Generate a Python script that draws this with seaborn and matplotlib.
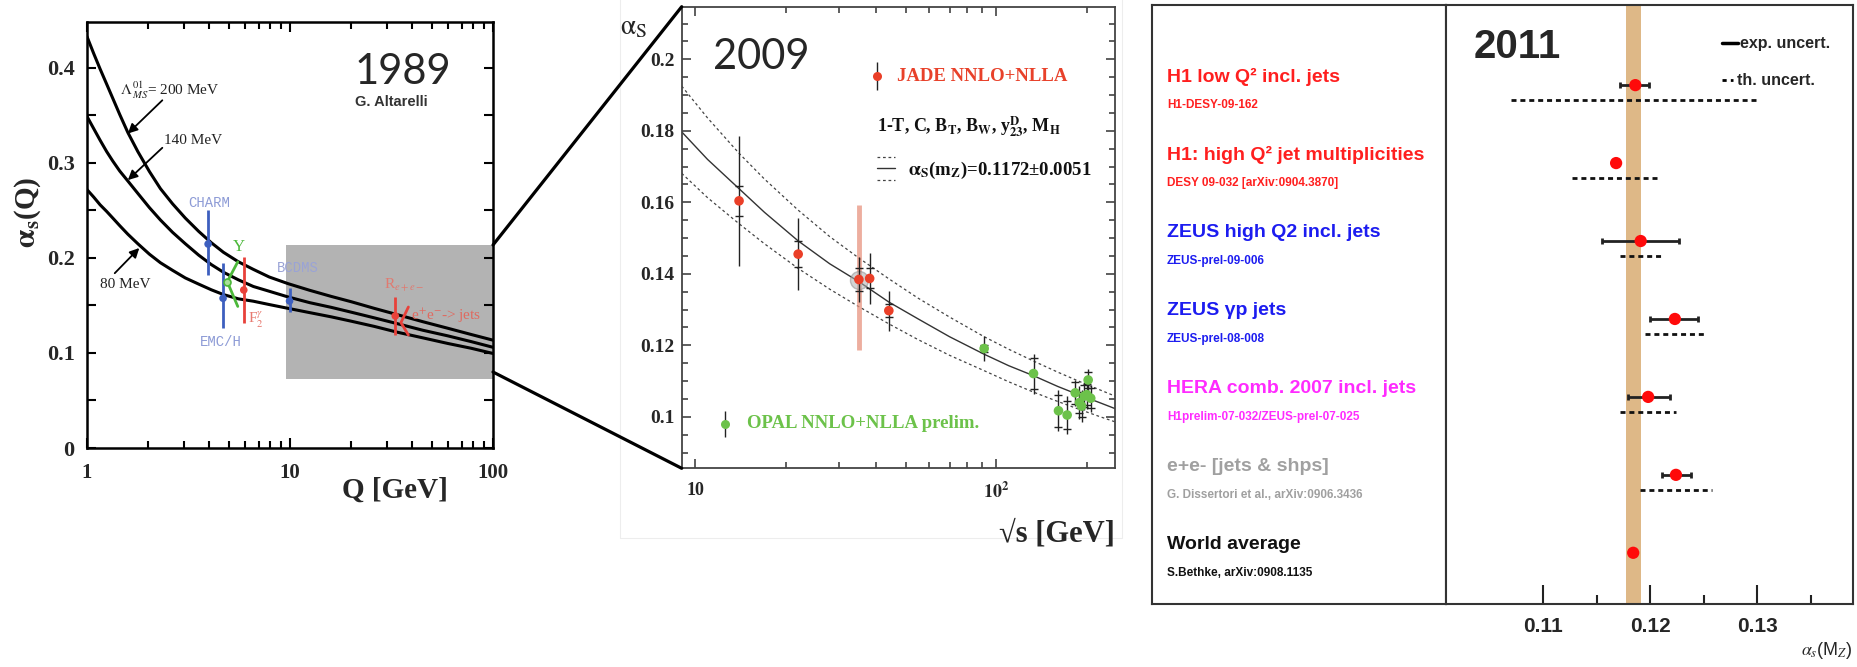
import numpy as np
import matplotlib
matplotlib.use("Agg")
import matplotlib.pyplot as plt
import seaborn as sns
from matplotlib.patches import ConnectionPatch, Rectangle
from matplotlib.ticker import (FixedLocator, FixedFormatter, MultipleLocator,
                               NullFormatter, FuncFormatter)

sns.set_style("ticks")
SERIF = ["Liberation Serif", "DejaVu Serif"]
SANS = ["Liberation Sans", "DejaVu Sans"]
plt.rcParams["font.family"] = SERIF
plt.rcParams["mathtext.fontset"] = "stix"

# ---------------- 1989: alpha_s(Q) for three Lambda values ----------------
q_gev = [1.0, 1.08, 1.16, 1.25, 1.34, 1.45, 1.59, 1.78, 2.03, 2.3, 2.64, 3.05, 3.55, 4.1,
         4.7, 5.57, 6.6, 7.9, 9.78, 12.5, 16, 20, 26, 33.6, 45, 60, 78, 100]
alpha_lam200 = [0.433, 0.415, 0.399, 0.383, 0.368, 0.351, 0.332, 0.312, 0.291, 0.273, 0.257,
                0.242, 0.228, 0.216, 0.206, 0.196, 0.188, 0.180, 0.173, 0.166, 0.1595, 0.154,
                0.147, 0.1405, 0.133, 0.126, 0.1195, 0.1135]
alpha_lam140 = [0.349, 0.336, 0.324, 0.312, 0.302, 0.2915, 0.281, 0.268, 0.253, 0.240, 0.227,
                0.215, 0.203, 0.193, 0.185, 0.177, 0.170, 0.165, 0.159, 0.153, 0.148, 0.143,
                0.137, 0.131, 0.124, 0.118, 0.112, 0.106]
alpha_lam80 = [0.272, 0.264, 0.256, 0.249, 0.242, 0.234, 0.225, 0.215, 0.204, 0.195, 0.187,
               0.179, 0.1725, 0.1665, 0.1615, 0.157, 0.1545, 0.151, 0.147, 0.1425, 0.138,
               0.1335, 0.128, 0.122, 0.116, 0.110, 0.105, 0.0995]

meas_names = ["CHARM", "EMC/H", "F2gamma", "BCDMS", "Ree"]
meas_q = [3.95, 4.68, 5.92, 9.95, 33.0]
meas_alpha = [0.2147, 0.1576, 0.1663, 0.1547, 0.139]
meas_lo = [0.182, 0.126, 0.1313, 0.1435, 0.119]
meas_hi = [0.2505, 0.1944, 0.2014, 0.1681, 0.1593]
meas_colors = ["#3d5fbf", "#3d5fbf", "#e8413a", "#3d5fbf", "#e8413a"]

ups_q = [5.53, 4.91, 5.53]
ups_alpha = [0.196, 0.175, 0.149]
eejets_q = [38.3, 35.2, 38.3]
eejets_alpha = [0.1484, 0.132, 0.1189]

zoom_q_lo = 9.56
zoom_alpha = (0.0726, 0.2137)

# ---------------- 2009: JADE / OPAL event shapes ----------------
rs_grid = [9.03, 11, 14, 17, 22, 28, 35, 44, 55, 70, 91.2, 110, 133, 160, 190, 220, 248]
fit_central = [0.1797, 0.1720, 0.1638, 0.1572, 0.1492, 0.1428, 0.1378, 0.1321, 0.1274,
               0.1224, 0.1175, 0.1143, 0.1115, 0.1085, 0.1060, 0.1040, 0.1023]
fit_upper = [0.1925, 0.1836, 0.1737, 0.1665, 0.1578, 0.1504, 0.1444, 0.1386, 0.1332,
             0.1279, 0.1224, 0.1189, 0.1156, 0.1125, 0.1098, 0.1076, 0.1058]
fit_lower = [0.1681, 0.1613, 0.1540, 0.1484, 0.1415, 0.1357, 0.1308, 0.1260, 0.1216,
             0.1172, 0.1129, 0.1098, 0.1069, 0.1043, 0.1020, 0.1001, 0.0986]

jade_rs = [14, 22, 35, 38, 44]
jade_alpha = [0.1604, 0.1455, 0.1384, 0.1387, 0.1297]
jade_stat = [0.0042, 0.0036, 0.0033, 0.0028, 0.0019]
jade_tot = [0.0182, 0.0100, 0.0063, 0.0071, 0.0056]
jade35_band = (0.1187, 0.1592)

opal_rs = [91.2, 133, 161, 172, 183, 189, 192, 196, 200, 202, 206]
opal_alpha = [0.1191, 0.1121, 0.1017, 0.1005, 0.1067, 0.1040, 0.1030, 0.1058, 0.1062, 0.1103, 0.1052]
opal_stat = [0.0010, 0.0043, 0.0045, 0.0040, 0.0030, 0.0030, 0.0030, 0.0030, 0.0030, 0.0022, 0.0028]
opal_tot = [0.0035, 0.0056, 0.0058, 0.0054, 0.0037, 0.0045, 0.0045, 0.0040, 0.0040, 0.0030, 0.0038]

# ---------------- 2011: alpha_s(M_Z) summary ----------------
row_titles = ["H1 low Q\u00b2 incl. jets", "H1: high Q\u00b2 jet multiplicities",
              "ZEUS high Q2 incl. jets", "ZEUS \u03b3p jets", "HERA comb. 2007 incl. jets",
              "e+e- [jets & shps]", "World average"]
row_refs = ["H1-DESY-09-162", "DESY 09-032 [arXiv:0904.3870]", "ZEUS-prel-09-006",
            "ZEUS-prel-08-008", "H1prelim-07-032/ZEUS-prel-07-025",
            "G. Dissertori et al., arXiv:0906.3436", "S.Bethke, arXiv:0908.1135"]
row_colors = ["#ff1f1f", "#ff1f1f", "#1c1cf0", "#1c1cf0", "#ff2bff", "#a0a0a0", "#111111"]
as_value = [0.1186, 0.1168, 0.1191, 0.1223, 0.1198, 0.1224, 0.1184]
exp_lo = [0.1172, np.nan, 0.1155, 0.1200, 0.1179, 0.1211, np.nan]
exp_hi = [0.1199, np.nan, 0.1227, 0.1245, 0.1218, 0.1238, np.nan]
th_lo = [0.1070, 0.1127, 0.1172, 0.1195, 0.1172, 0.1190, np.nan]
th_hi = [0.1302, 0.1208, 0.1210, 0.1253, 0.1224, 0.1258, np.nan]
world_band = (0.1177, 0.1191)

# ---------------- layout ----------------
W, H = 1858, 667
fig = plt.figure(figsize=(W / 100, H / 100), dpi=100)


def rect(x0, y0, x1, y1):
    return [x0 / W, 1 - y1 / H, (x1 - x0) / W, (y1 - y0) / H]


ax1 = fig.add_axes(rect(87, 22, 493, 448))
ax2 = fig.add_axes(rect(681.7, 6.7, 1115, 468.3))
axt = fig.add_axes(rect(1152, 5, 1446, 604))
ax3 = fig.add_axes(rect(1446, 5, 1853, 604))

# faint frame of the embedded 2009 figure
fig.add_artist(Rectangle((620 / W, 1 - 538 / H), (1122 - 620) / W, 540 / H,
                         transform=fig.transFigure, fill=False,
                         edgecolor="#ededed", lw=0.8, zorder=0))

# ======================= 1989 panel =======================
ax1.set_xscale("log")
xmax1 = 100
ax1.set_xlim(1, xmax1)
ax1.set_ylim(0, 0.4484)
ax1.fill_between([zoom_q_lo, xmax1], zoom_alpha[0], zoom_alpha[1],
                 color="#b3b3b3", lw=0, zorder=0)
for curve in (alpha_lam200, alpha_lam140, alpha_lam80):
    sns.lineplot(x=q_gev, y=curve, ax=ax1, color="black", lw=2.2,
                 sort=False, estimator=None, zorder=3)

ax1.vlines(meas_q, meas_lo, meas_hi, colors=meas_colors, lw=2.0, zorder=4)
sns.scatterplot(x=meas_q, y=meas_alpha, hue=meas_names,
                palette=dict(zip(meas_names, meas_colors)), s=30,
                edgecolor="none", legend=False, ax=ax1, zorder=5)
ax1.plot(ups_q, ups_alpha, color="#4cb83a", lw=2.0, zorder=4)
ax1.plot([ups_q[1]], [ups_alpha[1]], "o", ms=5, mfc="#a8e09a", mec="#4cb83a", mew=1.2, zorder=5)
ax1.plot(eejets_q, eejets_alpha, color="#e8413a", lw=2.0, zorder=4)

lab_kw = dict(fontsize=11, color="#222222", family=SERIF)
arrow_kw = dict(arrowstyle="-|>", lw=1.3, color="black", mutation_scale=14,
                shrinkA=0, shrinkB=0)
ax1.text(1.449, 0.377, r"$\Lambda^{\,01}_{\,MS}$= 200 MeV", va="center", ha="left", **lab_kw)
ax1.annotate("", xy=(1.59, 0.331), xytext=(2.35, 0.366), arrowprops=arrow_kw)
ax1.text(2.40, 0.324, "140 MeV", va="center", ha="left", **lab_kw)
ax1.annotate("", xy=(1.59, 0.282), xytext=(2.35, 0.316), arrowprops=arrow_kw)
ax1.text(1.157, 0.1716, "80 MeV", va="center", ha="left", **lab_kw)
ax1.annotate("", xy=(1.81, 0.2105), xytext=(1.37, 0.184), arrowprops=arrow_kw)

mono = ["Liberation Mono", "DejaVu Sans Mono"]
ax1.text(4.0, 0.258, "CHARM", color="#8d9bd6", fontsize=10, family=mono, ha="center", va="center")
ax1.text(4.58, 0.1116, "EMC/H", color="#8d9bd6", fontsize=10, family=mono, ha="center", va="center")
ax1.text(10.87, 0.1895, "BCDMS", color="#9aa3d6", fontsize=10, family=mono, ha="center", va="center")
ax1.text(5.58, 0.2116, "Y", color="#4cb83a", fontsize=12, ha="center", va="center")
ax1.text(6.23, 0.1347, r"F$_2^{\gamma}$", color="#e77a70", fontsize=11, ha="left", va="center")
ax1.text(29.1, 0.1716, r"R$_{e+e-}$", color="#e07a70", fontsize=11, ha="left", va="center")
ax1.text(39.3, 0.139, r"e$^{+}$e$^{-}$-> jets", color="#e06a60", fontsize=11, ha="left", va="center")

ax1.text(20.8, 0.396, "1989", fontsize=30, family=["Lato", "DejaVu Sans"], ha="left", va="center")
ax1.text(21.0, 0.364, "G. Altarelli", fontsize=10.5, family=SANS, weight="bold",
         color="#333333", ha="left", va="center")

ax1.xaxis.set_major_locator(FixedLocator([1, 10, 100]))
ax1.xaxis.set_major_formatter(FixedFormatter(["1", "10", "100"]))
ax1.xaxis.set_minor_locator(FixedLocator([2, 3, 4, 5, 6, 7, 8, 9, 20, 30, 40, 50, 60, 70, 80, 90]))
ax1.xaxis.set_minor_formatter(NullFormatter())
ax1.yaxis.set_major_locator(MultipleLocator(0.1))
ax1.yaxis.set_minor_locator(MultipleLocator(0.05))
ax1.yaxis.set_major_formatter(FuncFormatter(lambda v, p: f"{v:.1f}" if v > 0 else "0"))
ax1.tick_params(which="both", direction="in", top=True, right=True, width=1.5, color="black")
ax1.tick_params(axis="x", which="major", length=7.5, pad=11, labelsize=15)
ax1.tick_params(axis="x", which="minor", length=5)
ax1.tick_params(axis="y", which="both", length=6.5)
ax1.tick_params(axis="y", which="major", pad=9, labelsize=16)
for lab in ax1.get_xticklabels() + ax1.get_yticklabels():
    lab.set_fontweight("bold")
for sp in ax1.spines.values():
    sp.set_linewidth(1.8)
    sp.set_color("black")
ax1.set_xlabel("")
ax1.set_ylabel("")
ax1.text(-0.145, 0.554, r"$\mathbf{\alpha_s}$(Q)", transform=ax1.transAxes, rotation=90,
         fontsize=21, weight="bold", ha="center", va="center")
ax1.text(0.759, -0.0986, "Q [GeV]", transform=ax1.transAxes, fontsize=21, weight="bold",
         ha="center", va="center")

# connectors from the zoom box to the 2009 panel
for ya, yb in ((zoom_alpha[1], 1.0), (0.080, 0.0)):
    con = ConnectionPatch(xyA=(xmax1, ya), coordsA="data", axesA=ax1,
                          xyB=(0.0, yb), coordsB="axes fraction", axesB=ax2,
                          color="black", lw=2.3, zorder=10)
    fig.add_artist(con)

# ======================= 2009 panel =======================
ax2.set_xscale("log")
ax2.set_xlim(9.03, 248)
ax2.set_ylim(0.0856, 0.2147)
sns.lineplot(x=rs_grid, y=fit_central, ax=ax2, color="#333333", lw=1.0, sort=False, estimator=None)
for band in (fit_upper, fit_lower):
    sns.lineplot(x=rs_grid, y=band, ax=ax2, color="#444444", lw=0.9, sort=False,
                 estimator=None, linestyle=(0, (2.2, 2.2)))

ax2.vlines([jade_rs[2]], jade35_band[0], jade35_band[1], color="#e8937f", lw=3.5, alpha=0.75, zorder=2)
ax2.plot([jade_rs[2]], [jade_alpha[2]], "o", ms=13, mfc="#b0b0b0", mec="#909090", alpha=0.55, zorder=3)

for xs, ys, st, tt in ((jade_rs, jade_alpha, jade_stat, jade_tot),
                       (opal_rs, opal_alpha, opal_stat, opal_tot)):
    ax2.errorbar(xs, ys, yerr=tt, fmt="none", ecolor="#222222", elinewidth=1.0, zorder=4)
    ax2.errorbar(xs, ys, yerr=st, fmt="none", ecolor="#222222", elinewidth=0,
                 capsize=2.6, capthick=1.0, zorder=4)
sns.scatterplot(x=jade_rs, y=jade_alpha, color="#ea3f28", s=48, edgecolor="none", ax=ax2, zorder=5)
sns.scatterplot(x=opal_rs, y=opal_alpha, color="#6cc24a", s=48, edgecolor="none", ax=ax2, zorder=5)

ax2.text(11.48, 0.2006, "2009", fontsize=30, family=["Lato", "DejaVu Sans"], ha="left", va="center")
ax2.errorbar([40.2], [0.1953], yerr=[0.004], fmt="o", ms=6.5, color="#ea3f28",
             ecolor="#222222", elinewidth=1.0, mec="none")
ax2.text(46.7, 0.1953, "JADE NNLO+NLLA", color="#e8412a", fontsize=13.5, weight="bold",
         ha="left", va="center")
ax2.text(40.2, 0.1811,
         r"1-T, C, B$_\mathbf{T}$, B$_\mathbf{W}$, y$^\mathbf{D}_\mathbf{23}$, M$_\mathbf{H}$",
         fontsize=13, weight="bold", ha="left", va="center", color="#111111")
ax2.plot([40.2, 46.1], [0.1727, 0.1727], color="#444444", lw=0.9, ls=(0, (2.2, 2.2)))
ax2.plot([40.2, 46.1], [0.1695, 0.1695], color="#333333", lw=1.0)
ax2.plot([40.2, 46.1], [0.1662, 0.1662], color="#444444", lw=0.9, ls=(0, (2.2, 2.2)))
ax2.text(51.1, 0.1690, r"$\mathbf{\alpha_S}$(m$_\mathbf{Z}$)=0.1172" + "\u00b1" + "0.0051",
         fontsize=13.5, weight="bold", ha="left", va="center", color="#111111")
ax2.errorbar([12.58], [0.098], yerr=[0.0037], fmt="o", ms=6.5, color="#6cc24a",
             ecolor="#222222", elinewidth=1.0, mec="none")
ax2.text(14.86, 0.098, "OPAL NNLO+NLLA prelim.", color="#6cc24a", fontsize=13.5,
         weight="bold", ha="left", va="center")

ax2.xaxis.set_major_locator(FixedLocator([10, 100]))
ax2.xaxis.set_major_formatter(FixedFormatter(["10", r"$\mathbf{10^{2}}$"]))
ax2.xaxis.set_minor_locator(FixedLocator([20, 30, 40, 50, 60, 70, 80, 90, 200]))
ax2.xaxis.set_minor_formatter(NullFormatter())
ax2.yaxis.set_major_locator(MultipleLocator(0.02))
ax2.yaxis.set_minor_locator(MultipleLocator(0.005))
ax2.yaxis.set_major_formatter(FuncFormatter(lambda v, p: f"{v:g}"))
ax2.tick_params(which="both", direction="in", top=True, right=True, width=1.1, color="#333333")
ax2.tick_params(which="major", length=6.5)
ax2.tick_params(which="minor", length=4.5)
ax2.tick_params(axis="x", which="major", pad=10, labelsize=13)
ax2.tick_params(axis="y", which="major", pad=5, labelsize=14)
for lab in ax2.get_xticklabels() + ax2.get_yticklabels():
    lab.set_fontweight("bold")
for sp in ax2.spines.values():
    sp.set_linewidth(1.3)
    sp.set_color("#444444")
ax2.set_xlabel("")
ax2.set_ylabel("")
ax2.text(-0.112, 0.954, r"$\mathrm{\alpha}_\mathrm{S}$", transform=ax2.transAxes, fontsize=20,
         ha="center", va="center")
ax2.text(1.0, -0.142, "\u221as [GeV]", transform=ax2.transAxes, fontsize=22, weight="bold",
         ha="right", va="center")

# ======================= 2011 panel =======================
rows = np.arange(len(as_value))
ylim3 = (6.657, -1.028)
ax3.set_xlim(0.10088, 0.13897)
ax3.set_ylim(*ylim3)
axt.set_xlim(0, 1)
axt.set_ylim(*ylim3)

ax3.axvspan(world_band[0], world_band[1], color="#deb887", lw=0, zorder=0)
th_ok = ~np.isnan(np.array(th_lo))
ax3.hlines(rows[th_ok] + 0.19, np.array(th_lo)[th_ok], np.array(th_hi)[th_ok],
           colors="#111111", lw=2.0, linestyles=[(0, (1.8, 1.4))], zorder=2)
ex_ok = ~np.isnan(np.array(exp_lo))
xv = np.array(as_value)
ax3.errorbar(xv[ex_ok], rows[ex_ok],
             xerr=[xv[ex_ok] - np.array(exp_lo)[ex_ok], np.array(exp_hi)[ex_ok] - xv[ex_ok]],
             fmt="none", ecolor="#222222", elinewidth=2.0, capsize=2.2, capthick=2.0, zorder=3)
sns.scatterplot(x=as_value, y=rows, color="#ff0a0a", s=78, edgecolor="none", ax=ax3, zorder=5)

for i, (t, r, c) in enumerate(zip(row_titles, row_refs, row_colors)):
    axt.text(0.051, i - 0.109, t, color=c, fontsize=14, weight="bold", family=SANS,
             ha="left", va="center")
    axt.text(0.051, i + 0.26, r, color=c, fontsize=8.5, weight="bold", family=SANS,
             ha="left", va="center")

ax3.text(0.10343, -0.489, "2011", fontsize=29, weight="bold", family=SANS, ha="left", va="center")
ax3.plot([0.12667, 0.12822], [-0.536, -0.536], color="black", lw=2.5)
ax3.text(0.12838, -0.536, "exp. uncert.", fontsize=11.5, weight="bold", family=SANS,
         ha="left", va="center")
ax3.plot([0.12667, 0.12773], [-0.065, -0.065], color="black", lw=2.0, ls=(0, (1.5, 1.5)))
ax3.text(0.12807, -0.065, "th. uncert.", fontsize=11.5, weight="bold", family=SANS,
         ha="left", va="center")

ax3.xaxis.set_major_locator(FixedLocator([0.11, 0.12, 0.13]))
ax3.xaxis.set_major_formatter(FixedFormatter(["0.11", "0.12", "0.13"]))
ax3.xaxis.set_minor_locator(FixedLocator([0.115, 0.125, 0.135]))
ax3.tick_params(axis="x", which="both", direction="in", bottom=True, top=False, width=1.5,
                color="#222222")
ax3.tick_params(axis="x", which="major", length=13.5, pad=9, labelsize=15)
ax3.tick_params(axis="x", which="minor", length=6.5)
ax3.tick_params(axis="y", left=False, right=False, labelleft=False)
for lab in ax3.get_xticklabels():
    lab.set_fontweight("bold")
    lab.set_family(SANS)
ax3.set_xlabel("")
ax3.set_ylabel("")
ax3.text(1.0, -0.0768, r"$\alpha_s$(M$_Z$)", transform=ax3.transAxes, fontsize=13,
         family=SANS, ha="right", va="center")
axt.set_xticks([])
axt.set_yticks([])
for a in (ax3, axt):
    for sp in a.spines.values():
        sp.set_linewidth(1.5)
        sp.set_color("#333333")
        sp.set_visible(True)

fig.savefig("out.png", dpi=100)
